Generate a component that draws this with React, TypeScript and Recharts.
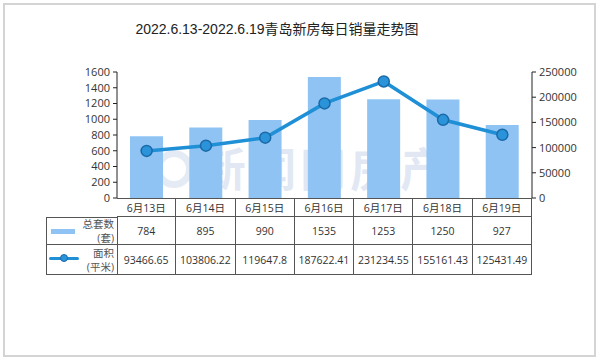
import { ComposedChart, Bar, Line, XAxis, YAxis } from 'recharts'

// 2022.6.13-6.19 青岛新房每日成交
const days = ['6月13日', '6月14日', '6月15日', '6月16日', '6月17日', '6月18日', '6月19日']
const totalUnits = [784, 895, 990, 1535, 1253, 1250, 927]
const areaSqm = [93466.65, 103806.22, 119647.8, 187622.41, 231234.55, 155161.43, 125431.49]
const unitTicks = [0, 200, 400, 600, 800, 1000, 1200, 1400, 1600]
const areaTicks = [0, 50000, 100000, 150000, 200000, 250000]

const TITLE = '2022.6.13-2022.6.19青岛新房每日销量走势图'

// 布局
const PLOT_LEFT = 117
const PLOT_RIGHT = 532
const PLOT_TOP = 72
const PLOT_BOTTOM = 198
const LABEL_LEFT = 46
const ROWS = [19, 28, 30]

const FONT = '"Open Sans", "Noto Sans CJK SC", sans-serif'
const BAR_COLOR = '#8fc3f4'
const LINE_COLOR = '#1f8fd6'
const BORDER = '1px solid #555'

const chartData = days.map((day, i) => ({
  day,
  units: totalUnits[i],
  area: areaSqm[i],
}))

function DataTable() {
  const colW = (PLOT_RIGHT - PLOT_LEFT) / days.length
  const rowTop = (r: number) => PLOT_BOTTOM + ROWS.slice(0, r).reduce((a, b) => a + b, 0)
  const cell = (left: number, top: number, w: number, h: number, content: any, key: string, extra: any = {}) => (
    <div
      key={key}
      style={{
        position: 'absolute',
        left,
        top,
        width: w,
        height: h,
        boxSizing: 'border-box',
        borderRight: BORDER,
        borderBottom: BORDER,
        display: 'flex',
        alignItems: 'center',
        justifyContent: 'center',
        fontSize: 10.5,
        color: '#333',
        whiteSpace: 'nowrap',
        ...extra,
      }}
    >
      {content}
    </div>
  )

  const cells: any[] = []
  days.forEach((d, i) => {
    const x = PLOT_LEFT + i * colW
    cells.push(cell(x, rowTop(0), colW, ROWS[0], d, `h${i}`, { borderTop: BORDER }))
    cells.push(cell(x, rowTop(1), colW, ROWS[1], String(totalUnits[i]), `u${i}`))
    cells.push(cell(x, rowTop(2), colW, ROWS[2], String(areaSqm[i]), `a${i}`))
  })

  const labelW = PLOT_LEFT - LABEL_LEFT
  const legendText = (a: string, b: string) => (
    <div style={{ position: 'absolute', right: 3, top: 0, bottom: 0, display: 'flex', flexDirection: 'column', justifyContent: 'center', alignItems: 'flex-end', lineHeight: '14px', fontSize: 10.5, color: '#555' }}>
      <span>{a}</span>
      <span>{b}</span>
    </div>
  )
  cells.push(
    cell(LABEL_LEFT, rowTop(1), labelW + 1, ROWS[1], (
      <>
        <div style={{ position: 'absolute', left: 4, top: 11, width: 24, height: 5, background: BAR_COLOR }} />
        {legendText('总套数', '(套)')}
      </>
    ), 'l1', { borderLeft: BORDER, borderTop: BORDER })
  )
  cells.push(
    cell(LABEL_LEFT, rowTop(2), labelW + 1, ROWS[2], (
      <>
        <div style={{ position: 'absolute', left: 2, top: 12, width: 30, height: 3, background: LINE_COLOR, borderRadius: 2 }} />
        <div style={{ position: 'absolute', left: 13, top: 9, width: 8, height: 8, borderRadius: 5, background: '#2a93da', border: '1px solid #1b6aa6', boxSizing: 'border-box' }} />
        {legendText('面积', '(平米)')}
      </>
    ), 'l2', { borderLeft: BORDER })
  )

  return <>{cells}</>
}

export default function App() {
  return (
    <div
      style={{
        position: 'absolute',
        left: 0,
        top: 0,
        width: 600,
        height: 362,
        background: '#fff',
        fontFamily: FONT,
      }}
    >
      <div
        style={{
          position: 'absolute',
          left: 3,
          top: 3,
          width: 593,
          height: 354,
          boxSizing: 'border-box',
          border: '2px solid #d4d4d4',
        }}
      />
      <div
        style={{
          position: 'absolute',
          left: 0,
          top: 18,
          width: 554,
          textAlign: 'center',
          fontSize: 14,
          color: '#222',
          fontFamily: '"Liberation Sans", "Noto Sans CJK SC", sans-serif',
        }}
      >
        {TITLE}
      </div>

      {/* 水印 */}
      <div
        style={{
          position: 'absolute',
          left: 200,
          top: 136,
          fontSize: 46,
          fontWeight: 700,
          letterSpacing: 4,
          color: 'rgba(150, 175, 215, 0.28)',
          fontFamily: '"Noto Sans CJK SC", sans-serif',
          lineHeight: '60px',
          whiteSpace: 'nowrap',
        }}
      >
        新闻网房产
      </div>
      <div
        style={{
          position: 'absolute',
          left: 155,
          top: 150,
          width: 38,
          height: 38,
          borderRadius: 20,
          border: '7px solid rgba(150, 175, 215, 0.25)',
          boxSizing: 'border-box',
        }}
      />

      <div style={{ position: 'absolute', left: 0, top: 0 }}>
        <ComposedChart
          width={600}
          height={362}
          data={chartData}
          margin={{ top: PLOT_TOP, bottom: 362 - PLOT_BOTTOM, left: PLOT_LEFT - 60, right: 600 - PLOT_RIGHT - 60 }}
        >
          <XAxis dataKey="day" hide />
          <YAxis
            yAxisId="units"
            width={60}
            domain={[0, 1600]}
            ticks={unitTicks}
            interval={0}
            axisLine={{ stroke: '#222' }}
            tickLine={{ stroke: '#222' }}
            tickSize={4}
            tickMargin={3}
            tick={{ fontSize: 11, fill: '#333', fontFamily: FONT }}
          />
          <YAxis
            yAxisId="area"
            orientation="right"
            width={60}
            domain={[0, 250000]}
            ticks={areaTicks}
            interval={0}
            axisLine={{ stroke: '#222' }}
            tickLine={{ stroke: '#222' }}
            tickSize={4}
            tickMargin={3}
            tick={{ fontSize: 11, fill: '#333', fontFamily: FONT }}
          />
          <Bar yAxisId="units" dataKey="units" fill={BAR_COLOR} barSize={33} isAnimationActive={false} />
          <Line
            yAxisId="area"
            type="linear"
            dataKey="area"
            stroke={LINE_COLOR}
            strokeWidth={3.5}
            dot={{ r: 5.5, fill: '#2a93da', stroke: '#1b6aa6', strokeWidth: 1.5 }}
            activeDot={false}
            isAnimationActive={false}
          />
        </ComposedChart>
      </div>

      <DataTable />
    </div>
  )
}
